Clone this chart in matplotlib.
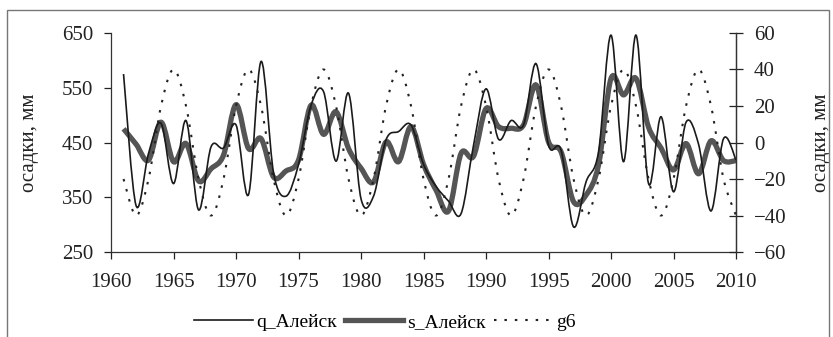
import numpy as np
import matplotlib.pyplot as plt
from matplotlib.path import Path
from matplotlib.patches import PathPatch, Rectangle
from matplotlib.lines import Line2D

plt.rcParams['font.family'] = ['Liberation Serif', 'DejaVu Serif']

years = list(range(1961, 2011))

# q_Алейск, mm (left axis)
q_aleysk = [575, 335, 430, 485, 375, 490, 327, 442, 440, 482,
            355, 598, 395, 352, 410, 518, 543, 416, 540, 347,
            352, 455, 470, 482, 410, 370, 343, 320, 445, 548,
            456, 490, 482, 594, 445, 436, 296, 378, 433, 646,
            415, 646, 375, 497, 360, 487, 447, 325, 457, 418]

# s_Алейск, mm (left axis)
s_aleysk = [475, 447, 418, 487, 415, 448, 380, 402, 427, 519,
            439, 457, 387, 398, 418, 518, 465, 506, 439, 403,
            378, 451, 415, 479, 410, 363, 325, 430, 425, 512,
            479, 476, 482, 555, 451, 433, 342, 354, 409, 567,
            537, 567, 478, 440, 400, 448, 393, 453, 417, 417]

# g6, mm (right axis)
g6 = [-20, -40, -20, 20, 40, 20, -20, -40, -20, 20,
      40, 20, -20, -40, -20, 20, 40, 20, -20, -40,
      -20, 20, 40, 20, -20, -40, -20, 20, 40, 20,
      -20, -40, -20, 20, 40, 20, -20, -40, -20, 20,
      40, 20, -20, -40, -20, 20, 40, 20, -20, -40]

left_ticks = [250, 350, 450, 550, 650]
right_ticks = [-60, -40, -20, 0, 20, 40, 60]
x_ticks = list(range(1960, 2011, 5))


def smooth_path(x, y):
    # Excel-like smoothed line: cubic Bezier through every data point
    x = np.asarray(x, float)
    y = np.asarray(y, float)
    verts = [(x[0], y[0])]
    codes = [Path.MOVETO]
    n = len(x)
    for i in range(n - 1):
        i0 = max(i - 1, 0)
        i3 = min(i + 2, n - 1)
        c1 = (x[i] + (x[i + 1] - x[i0]) / 6, y[i] + (y[i + 1] - y[i0]) / 6)
        c2 = (x[i + 1] - (x[i3] - x[i]) / 6, y[i + 1] - (y[i3] - y[i]) / 6)
        verts += [c1, c2, (x[i + 1], y[i + 1])]
        codes += [Path.CURVE4] * 3
    return Path(verts, codes)


fig = plt.figure(figsize=(8.33, 3.37), dpi=100)
ax = fig.add_axes([0.1333, 0.2522, 0.7503, 0.6499])
ax2 = ax.twinx()

thin = dict(color='#1a1a1a', lw=1.2)
thick = dict(color='#555555', lw=3.8)
dots = dict(color='#222222', lw=1.5, linestyle=(0, (1.2, 3.8)))

ax.add_patch(PathPatch(smooth_path(years, s_aleysk), fill=False, zorder=2, **thick))
ax.add_patch(PathPatch(smooth_path(years, q_aleysk), fill=False, zorder=3, **thin))
ax2.add_patch(PathPatch(smooth_path(years, g6), fill=False, **dots))

ax.set_xlim(1960, 2010)
ax.set_ylim(250, 650)
ax2.set_ylim(-60, 60)
ax.set_xticks(x_ticks)
ax.set_yticks(left_ticks)
ax2.set_yticks(right_ticks)

for a in (ax, ax2):
    a.spines['top'].set_visible(False)
    for s in a.spines.values():
        s.set_color('#333333')
        s.set_linewidth(0.9)
ax2.spines['left'].set_visible(False)
ax2.spines['bottom'].set_visible(False)

ax.tick_params(axis='both', direction='out', length=5, width=0.9,
               labelsize=15, colors='#222222')
ax.tick_params(axis='y', pad=8)
ax.tick_params(axis='x', pad=10)
ax2.tick_params(axis='y', direction='inout', length=10, width=0.9,
                labelsize=15, colors='#222222', pad=8)

ax.set_ylabel('осадки, мм', fontsize=15, color='#222222', labelpad=16)
ax2.set_ylabel('осадки, мм', fontsize=15, color='#222222', labelpad=18)

handles = [Line2D([], [], **thin), Line2D([], [], **thick), Line2D([], [], **dots)]
fig.legend(handles, ['q_Алейск', 's_Алейск', 'g6'], loc='center',
           bbox_to_anchor=(0.462, 0.045), ncol=3, frameon=False, fontsize=14,
           handlelength=3.0, handletextpad=0.2, columnspacing=0.4)

fig.add_artist(Rectangle((7 / 833, -0.1), 822 / 833, 1.1 - 10 / 337,
                         transform=fig.transFigure, fill=False,
                         edgecolor='#777777', lw=1.0))

fig.savefig('out.png', dpi=100)
